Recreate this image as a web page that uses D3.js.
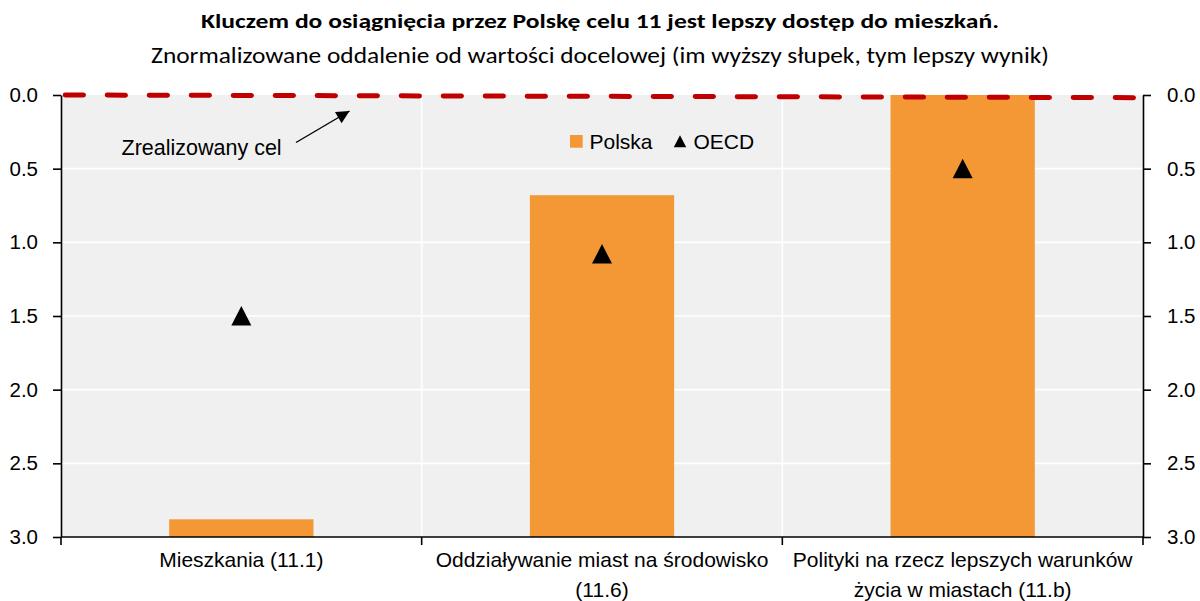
<!DOCTYPE html>
<html>
<head>
<meta charset="utf-8">
<script src="https://cdn.jsdelivr.net/npm/d3@7"></script>
<style>
  html, body { margin: 0; padding: 0; background: #ffffff; }
  svg { display: block; }
  .lbl { font-family: "Liberation Sans", Arial, sans-serif; fill: #000; }
</style>
</head>
<body>
<svg id="chart" width="1200" height="601"></svg>
<script>
// ---- data ----
const categories = [
  ["Mieszkania (11.1)"],
  ["Oddziaływanie miast na środowisko", "(11.6)"],
  ["Polityki na rzecz lepszych warunków", "życia w miastach (11.b)"]
];
const categoryKeys = ["11.1", "11.6", "11.b"];
const polskaValues = [2.88, 0.68, 0.0];
const oecdValues = [1.50, 1.08, 0.50];
const targetLineValues = [0.0, 0.018];
const yTickValues = [0.0, 0.5, 1.0, 1.5, 2.0, 2.5, 3.0];
const titleText = "Kluczem do osiągnięcia przez Polskę celu 11 jest lepszy dostęp do mieszkań.";
const subtitleText = "Znormalizowane oddalenie od wartości docelowej (im wyższy słupek, tym lepszy wynik)";
const seriesNames = ["Polska", "OECD"];
const annotationText = "Zrealizowany cel";

// ---- layout ----
const plot = { left: 61, right: 1143, top: 95, bottom: 537 };
const orange = "#f39834";
const red = "#c00000";
const grey = "#f0f0f0";

const svg = d3.select("#chart");

const x = d3.scaleBand().domain(categoryKeys).range([plot.left, plot.right]).padding(0);
const y = d3.scaleLinear().domain([0, 3]).range([plot.top, plot.bottom]);

// background
svg.append("rect")
  .attr("x", plot.left).attr("y", plot.top)
  .attr("width", plot.right - plot.left).attr("height", plot.bottom - plot.top)
  .attr("fill", grey);

// horizontal gridlines
svg.append("g").selectAll("line")
  .data(yTickValues.filter(v => v > 0 && v < 3))
  .join("line")
  .attr("x1", plot.left).attr("x2", plot.right)
  .attr("y1", d => y(d)).attr("y2", d => y(d))
  .attr("stroke", "#ffffff").attr("stroke-width", 1.6);

// vertical separators
svg.append("g").selectAll("line")
  .data(categoryKeys.slice(1))
  .join("line")
  .attr("x1", d => x(d)).attr("x2", d => x(d))
  .attr("y1", plot.top).attr("y2", plot.bottom)
  .attr("stroke", "#ffffff").attr("stroke-width", 1.6);

// bars
const barFrac = 0.4;
svg.append("g").selectAll("rect")
  .data(polskaValues)
  .join("rect")
  .attr("x", (d, i) => x(categoryKeys[i]) + x.bandwidth() * (1 - barFrac) / 2)
  .attr("width", x.bandwidth() * barFrac)
  .attr("y", d => y(d))
  .attr("height", d => y(3) - y(d))
  .attr("fill", orange);

// triangles
const triPath = (s) => `M0,${-s/2}L${s/2},${s/2 - 0.5}L${-s/2},${s/2 - 0.5}Z`;
svg.append("g").selectAll("path")
  .data(oecdValues)
  .join("path")
  .attr("d", triPath(20))
  .attr("transform", (d, i) => `translate(${x(categoryKeys[i]) + x.bandwidth() / 2},${y(d)})`)
  .attr("fill", "#000");

// target dashed line
const lineX = d3.scaleLinear().domain([0, 1]).range([plot.left + 4.2, plot.right - 4]);
svg.append("path")
  .datum(targetLineValues)
  .attr("d", d3.line().x((d, i) => lineX(i)).y(d => y(d)))
  .attr("fill", "none")
  .attr("stroke", red)
  .attr("stroke-width", 5)
  .attr("stroke-linecap", "round")
  .attr("stroke-dasharray", "18.3 23.7");

// axes
const fmt = d3.format(".1f");
const leftAxis = d3.axisLeft(y).tickValues(yTickValues).tickFormat(fmt).tickSize(8).tickPadding(15).tickSizeOuter(0);
const rightAxis = d3.axisRight(y).tickValues(yTickValues).tickFormat(fmt).tickSize(8).tickPadding(16).tickSizeOuter(0);

function styleAxis(g) {
  g.select(".domain").attr("stroke", "#000").attr("stroke-width", 1.6);
  g.selectAll(".tick line").attr("stroke", "#000").attr("stroke-width", 1.6);
  g.selectAll(".tick text").attr("class", "lbl").style("font-size", "20.5px").attr("fill", "#000");
}
svg.append("g").attr("transform", `translate(${plot.left},0)`).call(leftAxis).call(styleAxis);
svg.append("g").attr("transform", `translate(${plot.right},0)`).call(rightAxis).call(styleAxis);

// bottom axis line + ticks at band boundaries
const bottomG = svg.append("g");
bottomG.append("line")
  .attr("x1", plot.left).attr("x2", plot.right)
  .attr("y1", plot.bottom).attr("y2", plot.bottom)
  .attr("stroke", "#000").attr("stroke-width", 1.6);
const boundaries = categoryKeys.map(k => x(k)).concat([plot.right]);
bottomG.selectAll("line.t")
  .data(boundaries)
  .join("line")
  .attr("class", "t")
  .attr("x1", d => d).attr("x2", d => d)
  .attr("y1", plot.bottom).attr("y2", plot.bottom + 8)
  .attr("stroke", "#000").attr("stroke-width", 1.6);

// category labels
const catG = bottomG.selectAll("text.cat")
  .data(categories)
  .join("text")
  .attr("class", "lbl cat")
  .attr("text-anchor", "middle")
  .style("font-size", "21px")
  .attr("x", (d, i) => x(categoryKeys[i]) + x.bandwidth() / 2)
  .attr("y", plot.bottom + 30);
catG.selectAll("tspan")
  .data(d => d)
  .join("tspan")
  .attr("x", function () { return d3.select(this.parentNode).attr("x"); })
  .attr("dy", (d, i) => i === 0 ? 0 : 30)
  .text(d => d);

// title
svg.append("text")
  .attr("x", 600).attr("y", 28)
  .attr("text-anchor", "middle")
  .style("font-family", "Carlito, Lato, 'Open Sans', sans-serif")
  .style("font-weight", "bold")
  .style("font-size", "20.5px")
  .attr("textLength", 798).attr("lengthAdjust", "spacingAndGlyphs")
  .text(titleText);
svg.append("text")
  .attr("x", 600).attr("y", 63)
  .attr("text-anchor", "middle")
  .style("font-family", "Carlito, Lato, 'Open Sans', sans-serif")
  .style("font-size", "21.5px")
  .attr("textLength", 898).attr("lengthAdjust", "spacingAndGlyphs")
  .text(subtitleText);

// legend
const legG = svg.append("g");
legG.append("rect").attr("x", 570).attr("y", 135).attr("width", 12.7).attr("height", 12.7).attr("fill", orange);
legG.append("text").attr("class", "lbl").style("font-size", "21px").attr("x", 589.5).attr("y", 148.5).text(seriesNames[0]);
legG.append("path").attr("d", triPath(12.5)).attr("transform", "translate(680,141.5)").attr("fill", "#000");
legG.append("text").attr("class", "lbl").style("font-size", "21px").attr("x", 693.5).attr("y", 148.5).text(seriesNames[1]);

// annotation
svg.append("defs").append("marker")
  .attr("id", "arrowhead")
  .attr("viewBox", "0 0 10 10")
  .attr("refX", 10).attr("refY", 5)
  .attr("markerUnits", "userSpaceOnUse")
  .attr("markerWidth", 16).attr("markerHeight", 13)
  .attr("orient", "auto")
  .append("path").attr("d", "M0,0L10,5L0,10Z").attr("fill", "#000");
svg.append("text").attr("class", "lbl").style("font-size", "21.5px")
  .attr("x", 121.5).attr("y", 154.5).text(annotationText);
svg.append("line")
  .attr("x1", 296).attr("y1", 142.5)
  .attr("x2", 349.5).attr("y2", 111)
  .attr("stroke", "#000").attr("stroke-width", 1.4)
  .attr("marker-end", "url(#arrowhead)");
</script>
</body>
</html>
